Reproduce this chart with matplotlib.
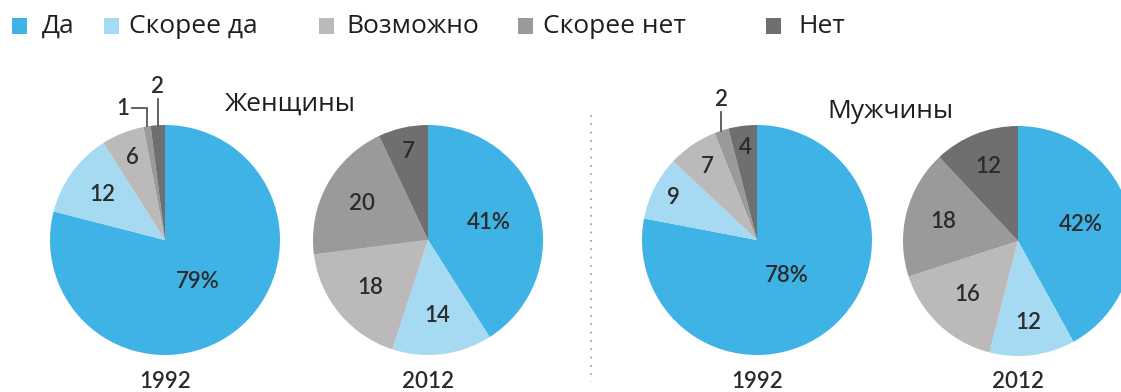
import numpy as np
import matplotlib.pyplot as plt
from matplotlib.patches import Rectangle

# survey answers, percent
answers = ['Да', 'Скорее да', 'Возможно', 'Скорее нет', 'Нет']
women_1992 = [79, 12, 6, 1, 2]
women_2012 = [41, 14, 18, 20, 7]
men_1992 = [78, 9, 7, 2, 4]
men_2012 = [42, 12, 16, 18, 12]
years = ['1992', '2012', '1992', '2012']
groups = ['Женщины', 'Мужчины']

colors = ['#3fb3e6', '#a6daf3', '#bbb9b9', '#9a9a9a', '#6f6f6f']
text_dark = '#2b2b2b'

W, H = 1121, 392
fig = plt.figure(figsize=(W / 100, H / 100), dpi=100)
ax = fig.add_axes([0, 0, 1, 1])

pies = [women_1992, women_2012, men_1992, men_2012]
centers = [(165, 240), (428, 240), (757, 240), (1018, 241)]
R = 115
# radial position of each value label (fraction of radius); None -> leader line
label_r = [
    [0.46, 0.67, 0.77, None, None],
    [0.55, 0.66, 0.65, 0.65, 0.79],
    [0.40, 0.82, 0.77, None, 0.81],
    [0.56, 0.71, 0.64, 0.67, 0.70],
]
# leader lines: (pie, slice) -> (rise px, horizontal run px)
leaders = {(0, 3): (18, -15), (0, 4): (26, 0), (2, 3): (19, 0)}

num_font = dict(family='Lato', fontsize=16, fontweight='semibold', color=text_dark)
txt_font = dict(family='Open Sans', color='#1e1e1e')

for i, vals in enumerate(pies):
    cx, cy = centers[i]
    cy = H - cy
    wedges, _ = ax.pie(vals, colors=colors, startangle=90, counterclock=False,
                       center=(cx, cy), radius=R, frame=True,
                       wedgeprops=dict(linewidth=0))
    for j, w in enumerate(wedges):
        ang = np.deg2rad((w.theta1 + w.theta2) / 2)
        txt = f'{vals[j]}%' if j == 0 else str(vals[j])
        if label_r[i][j] is not None:
            r = label_r[i][j] * R
            ax.text(cx + r * np.cos(ang), cy + r * np.sin(ang), txt,
                    ha='center', va='center', **num_font)
        else:
            rise, run = leaders[(i, j)]
            x0, y0 = cx + R * np.cos(ang), cy + R * np.sin(ang)
            xs = [x0, x0, x0 + run]
            ys = [y0, y0 + rise, y0 + rise]
            ax.plot(xs, ys, color='#555555', lw=1.3, solid_joinstyle='miter')
            if run == 0:
                ax.text(x0, y0 + rise + 2, txt, ha='center', va='bottom',
                        **num_font)
            else:
                ax.text(x0 + run - 3, y0 + rise, txt, ha='right', va='center',
                        **num_font)
    ax.text(cx, H - 381, years[i], ha='center', va='center', **num_font)

# group titles
ax.text(290, H - 104, groups[0], ha='center', va='center', fontsize=19,
        **txt_font)
ax.text(890, H - 111, groups[1], ha='center', va='center', fontsize=19,
        **txt_font)

# dotted separator
ax.plot([591, 591], [H - 115, H - 382], color='#999999', lw=1.2,
        linestyle=(0, (1, 4)))

# legend
box_x = [12, 104, 319, 518, 766]
label_x = [42, 129, 346, 543, 798]
for k, name in enumerate(answers):
    ax.add_patch(Rectangle((box_x[k], H - 34), 15, 16, color=colors[k], lw=0))
    ax.text(label_x[k], H - 26, name, ha='left', va='center', fontsize=19,
            **txt_font)

ax.set_xlim(0, W)
ax.set_ylim(0, H)
ax.set_aspect('auto')
ax.axis('off')

fig.savefig('out.png', dpi=100)
